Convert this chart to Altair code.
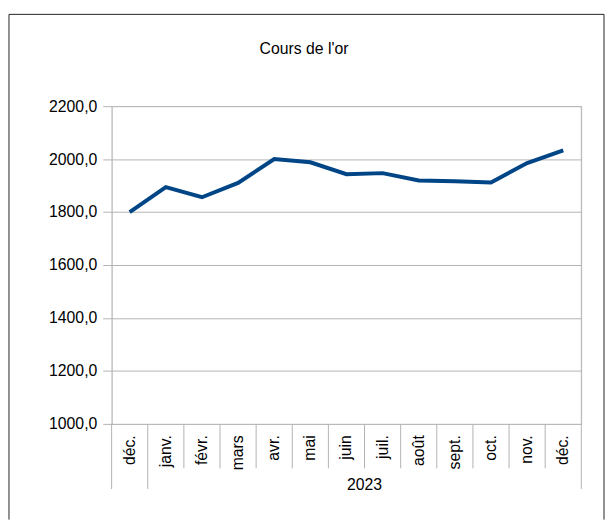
import altair as alt
import pandas as pd

# ---- data ----
months = ["déc.", "janv.", "févr.", "mars", "avr.", "mai", "juin",
          "juil.", "août", "sept.", "oct.", "nov.", "déc."]
values = [1800, 1894, 1856, 1910, 2000, 1988, 1943, 1947, 1919, 1916, 1912, 1985, 2033]
y_ticks = [1000, 1200, 1400, 1600, 1800, 2000, 2200]
year_label = "2023"
title_text = "Cours de l'or"

GRAY = "#b3b3b3"
BLUE = "#004586"
FONT = "Liberation Sans"
W, H = 476, 322

idx = list(range(len(months)))
df = pd.DataFrame({"idx": idx, "value": values, "month": months})

label_expr = "[" + ",".join("'" + m + "'" for m in months) + "][datum.value]"

xscale = alt.Scale(type="band", paddingInner=0, paddingOuter=0, domain=idx)

x_line = alt.X(
    "idx:O", scale=xscale, bandPosition=0.5,
    axis=alt.Axis(
        title=None, labelExpr=label_expr, labelAngle=270, labelAlign="right",
        labelBaseline="middle", labelPadding=11, labelFontSize=16,
        labelColor="black", ticks=False, domain=False, grid=False,
        labelFont=FONT,
    ),
)
y_line = alt.Y(
    "value:Q",
    scale=alt.Scale(domain=[y_ticks[0], y_ticks[-1]], nice=False, zero=False),
    axis=alt.Axis(
        title=None, values=y_ticks,
        labelExpr="replace(format(datum.value, '.1f'), '.', ',')",
        tickSize=9, tickColor=GRAY, domainColor=GRAY, gridColor=GRAY,
        labelPadding=6, labelFontSize=16, labelColor="black", labelFont=FONT,
    ),
)

line = alt.Chart(df).mark_line(color=BLUE, strokeWidth=4).encode(x=x_line, y=y_line)

# inner category separators (between months)
inner_df = pd.DataFrame({"idx": idx[2:]})
inner = alt.Chart(inner_df).mark_rule(color=GRAY, strokeWidth=1).encode(
    x=alt.X("idx:O", scale=xscale, bandPosition=0),
    y=alt.value(H), y2=alt.value(H + 45),
)

# group separators (year grouping)
group_df = pd.DataFrame({"idx": idx[:2]})
group = alt.Chart(group_df).mark_rule(color=GRAY, strokeWidth=1).encode(
    x=alt.X("idx:O", scale=xscale, bandPosition=0),
    y=alt.value(H), y2=alt.value(H + 66),
)
group_end_df = pd.DataFrame({"idx": [idx[-1]]})
group_end = alt.Chart(group_end_df).mark_rule(color=GRAY, strokeWidth=1).encode(
    x=alt.X("idx:O", scale=xscale, bandPosition=1),
    y=alt.value(0), y2=alt.value(H + 66),
)

# year label, centred under the group janv.–déc.
year_df = pd.DataFrame({"idx": [7], "label": [year_label]})
year = alt.Chart(year_df).mark_text(
    fontSize=16, font=FONT, color="black", align="center", baseline="middle"
).encode(
    x=alt.X("idx:O", scale=xscale, bandPosition=0),
    y=alt.value(H + 62), text="label:N",
)

# chart title
title_df = pd.DataFrame({"label": [title_text]})
title = alt.Chart(title_df).mark_text(
    fontSize=16, font=FONT, color="black", align="center", baseline="middle"
).encode(x=alt.value(195), y=alt.value(-58), text="label:N")

# outer frame (left, top, right)
frame_df = pd.DataFrame({"k": [0]})
frame_left = alt.Chart(frame_df).mark_rule(color="#222", strokeWidth=1).encode(
    x=alt.value(-104), y=alt.value(-93), y2=alt.value(419))
frame_right = alt.Chart(frame_df).mark_rule(color="#222", strokeWidth=1).encode(
    x=alt.value(499), y=alt.value(-93), y2=alt.value(419))
frame_top = alt.Chart(frame_df).mark_rule(color="#222", strokeWidth=1).encode(
    x=alt.value(-104), x2=alt.value(499), y=alt.value(-93))

chart = alt.layer(
    inner, group, group_end, line, year, title, frame_left, frame_right, frame_top
).properties(
    width=W, height=H,
    padding={"left": 0, "top": 2, "right": 0, "bottom": 0},
    background="white",
).configure_view(stroke=GRAY, strokeWidth=1).configure(font=FONT)

chart.save("out.html", embed_options={"renderer": "svg", "actions": False})
